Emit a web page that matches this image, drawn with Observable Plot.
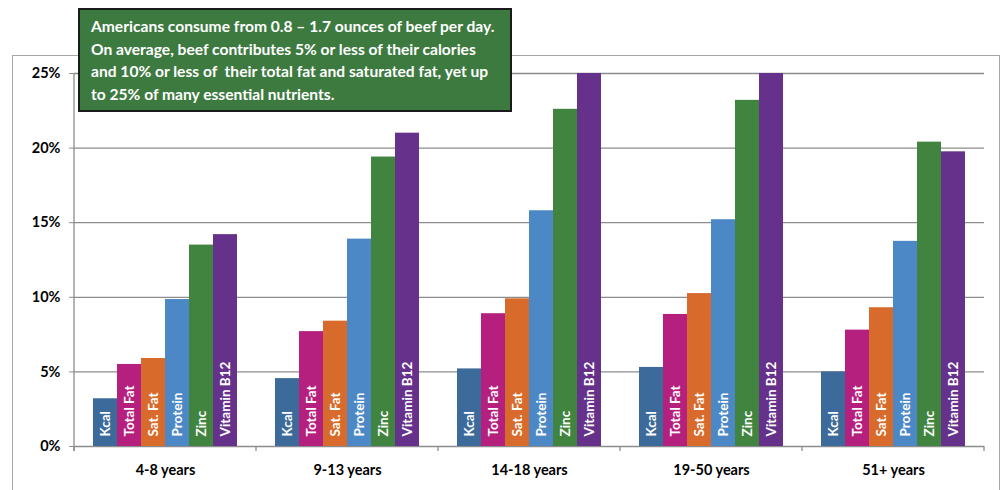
<!DOCTYPE html>
<html>
<head>
<meta charset="utf-8">
<script src="https://cdn.jsdelivr.net/npm/d3@7"></script>
<script src="https://cdn.jsdelivr.net/npm/@observablehq/plot@0.6"></script>
<style>
  html, body { margin: 0; padding: 0; background: #fff; }
  #wrap { position: relative; width: 1005px; height: 490px; overflow: hidden; font-family: Lato, "Open Sans", sans-serif; }
  #frame { position: absolute; left: 12px; top: 55px; width: 988px; height: 460px; border: 1.5px solid #a6a6a6; box-sizing: border-box; }
  #chart { position: absolute; left: 0; top: 0; }
  #note { position: absolute; left: 78px; top: 8px; width: 434px; height: 104px; box-sizing: border-box;
          background: #3d7a3f; border: 2px solid #1b1b1b; color: #fff; font-weight: bold; font-size: 15.6px;
          line-height: 22.5px; padding: 5px 0 0 11px; font-family: Lato, "Open Sans", sans-serif; }
</style>
</head>
<body>
<div id="wrap">
  <div id="frame"></div>
  <div id="chart"></div>
  <div id="note">Americans consume from 0.8 – 1.7 ounces of beef per day.<br>On average, beef contributes 5% or less of their calories<br>and 10% or less of&nbsp; their total fat and saturated fat, yet up<br>to 25% of many essential nutrients.</div>
</div>
<script>
const groups = ["4-8 years", "9-13 years", "14-18 years", "19-50 years", "51+ years"];
const nutrients = ["Kcal", "Total Fat", "Sat. Fat", "Protein", "Zinc", "Vitamin B12"];
const colors = ["#3c6a9a", "#b5207e", "#d86b2b", "#4c88c6", "#41843f", "#65318a"];
const kcal      = [3.2, 4.55, 5.2, 5.3, 5.0];
const totalFat  = [5.5, 7.7, 8.9, 8.85, 7.8];
const satFat    = [5.9, 8.4, 9.9, 10.25, 9.3];
const protein   = [9.85, 13.9, 15.8, 15.2, 13.75];
const zinc      = [13.5, 19.4, 22.6, 23.2, 20.4];
const vitB12    = [14.2, 21.0, 25, 25, 19.75];
const yTicks = [0, 5, 10, 15, 20, 25];

const series = [kcal, totalFat, satFat, protein, zinc, vitB12];
const data = [];
groups.forEach((g, gi) => nutrients.forEach((n, ni) => data.push({group: g, nutrient: n, value: series[ni][gi]})));

const plot = Plot.plot({
  width: 1005, height: 490,
  marginLeft: 72, marginRight: 20, marginTop: 73, marginBottom: 44,
  style: {fontFamily: "Lato, 'Open Sans', sans-serif", fontWeight: "bold", background: "transparent"},
  fx: {domain: groups, padding: 0, label: null},
  x: {domain: nutrients, paddingInner: 0, paddingOuter: 0.74, axis: null},
  y: {domain: [0, 25], axis: null},
  color: {domain: nutrients, range: colors},
  marks: [
    Plot.ruleY(yTicks, {stroke: "#8c8c8c", strokeWidth: 1.3}),
    Plot.axisY({ticks: yTicks, tickFormat: d => d + "%", tickSize: 5, tickPadding: 9, stroke: "#8c8c8c", fill: "black", fontSize: 14.5, fontWeight: "bold", label: null}),
    Plot.axisFx({anchor: "bottom", tickSize: 0, tickPadding: 18, fontSize: 14.5, fontWeight: "bold", fill: "black", label: null}),
    Plot.barY(data, {fx: "group", x: "nutrient", y: "value", fill: "nutrient", inset: 0}),
    Plot.text(data, {fx: "group", x: "nutrient", y: 0, text: "nutrient", rotate: -90, textAnchor: "start", dy: -10, fill: "white", fontSize: 13.5, fontWeight: "bold"})
  ]
});
document.getElementById("chart").appendChild(plot);

const svg = d3.select(plot);
const fx = plot.scale("fx");
const y = plot.scale("y");
const y0 = y.apply(0), y25 = y.apply(25);
const bounds = groups.map(g => fx.apply(g)).concat([fx.apply(groups[groups.length - 1]) + fx.bandwidth]);
const g = svg.append("g").attr("stroke", "#8c8c8c").attr("stroke-width", 1.3);
g.append("line").attr("x1", bounds[0]).attr("x2", bounds[0]).attr("y1", y25).attr("y2", y0 + 5);
bounds.forEach(b => g.append("line").attr("x1", b).attr("x2", b).attr("y1", y0).attr("y2", y0 + 5));
</script>
</body>
</html>
